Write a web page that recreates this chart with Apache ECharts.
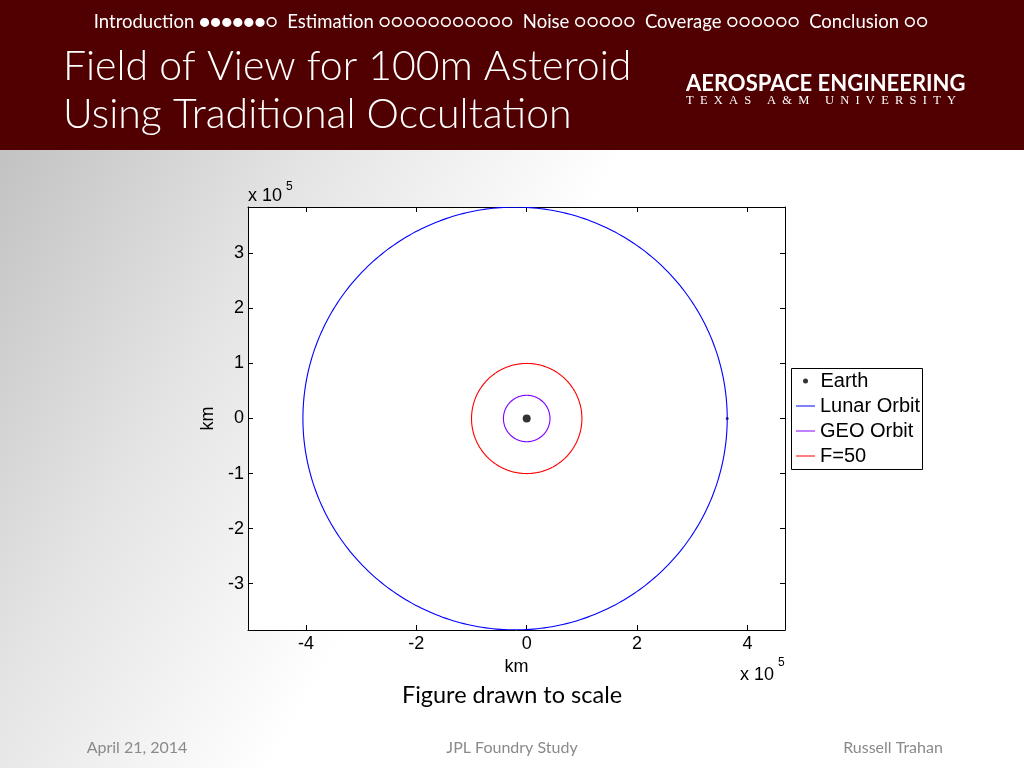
<!DOCTYPE html>
<html><head><meta charset="utf-8">
<script src="https://cdn.jsdelivr.net/npm/echarts@6/dist/echarts.min.js"></script>
<style>html,body{margin:0;padding:0;background:#fff}#c{width:1024px;height:768px;}</style>
</head><body><div id="c"></div>
<script>
// ---- data (km) ----
const seriesNames = ['Earth', 'Lunar Orbit', 'GEO Orbit', 'F=50'];
const earthPos = [0, 0];
// ellipse: center x, center y, semi-axis x, semi-axis y
const lunarOrbit = [-21100, 0, 384400, 383800];
const geoOrbit = [0, 0, 42164, 42164];
const f50Circle = [0, 0, 100000, 100000];
const moonMarker = [363300, 0];
const xTicks = [-400000, -200000, 0, 200000, 400000];
const yTicks = [-300000, -200000, -100000, 0, 100000, 200000, 300000];
const xRange = [-505000, 468000];
const yRange = [-384000, 384000];

const AX = 'Liberation Sans, Arial, sans-serif';
const SL = 'Lato, "Open Sans", sans-serif';

function ellipseItem(params, api) {
  const cx = api.value(0), cy = api.value(1), rx = api.value(2), ry = api.value(3);
  const pts = [];
  for (let i = 0; i <= 360; i++) {
    const t = i * Math.PI / 180;
    pts.push(api.coord([cx + rx * Math.cos(t), cy + ry * Math.sin(t)]));
  }
  return { type: 'polyline', shape: { points: pts }, style: { fill: null, stroke: api.visual('color'), lineWidth: 1.1 } };
}

function xAxisDef(pos, labels) {
  return {
    type: 'value', position: pos, min: xRange[0], max: xRange[1],
    axisLine: { show: true, onZero: false, lineStyle: { color: '#000', width: 1 } },
    axisTick: { show: true, inside: true, length: 5, customValues: xTicks, lineStyle: { color: '#000' } },
    axisLabel: { show: labels, customValues: xTicks, formatter: v => String(v / 1e5), fontSize: 18, color: '#000', fontFamily: AX, margin: 5 },
    splitLine: { show: false },
    name: labels ? 'km' : '', nameLocation: 'middle', nameGap: 22,
    nameTextStyle: { fontSize: 18, color: '#000', fontFamily: AX }
  };
}
function yAxisDef(pos, labels) {
  return {
    type: 'value', position: pos, min: yRange[0], max: yRange[1],
    axisLine: { show: true, onZero: false, lineStyle: { color: '#000', width: 1 } },
    axisTick: { show: true, inside: true, length: 5, customValues: yTicks, lineStyle: { color: '#000' } },
    axisLabel: { show: labels, customValues: yTicks, formatter: v => String(v / 1e5), fontSize: 18, color: '#000', fontFamily: AX, margin: 4 },
    splitLine: { show: false },
    name: labels ? 'km' : '', nameLocation: 'middle', nameGap: 22, nameRotate: 90,
    nameTextStyle: { fontSize: 18, color: '#000', fontFamily: AX }
  };
}

const chart = echarts.init(document.getElementById('c'), null, { renderer: 'canvas' });
chart.setOption({
  animation: false,
  backgroundColor: new echarts.graphic.LinearGradient(0, 150, 470, 420, [
    { offset: 0, color: '#c2c2c2' }, { offset: 0.5, color: '#e4e4e4' }, { offset: 1, color: '#ffffff' }
  ], true),
  grid: { left: 248, top: 207, width: 537, height: 423, show: true, backgroundColor: '#fff', borderWidth: 0 },
  xAxis: [xAxisDef('bottom', true), xAxisDef('top', false)],
  yAxis: [yAxisDef('left', true), yAxisDef('right', false)],
  legend: [
    { data: [{ name: seriesNames[0], icon: 'circle' }], orient: 'vertical', left: 803, top: 371, padding: 0,
      itemWidth: 20, itemHeight: 5, textStyle: { fontSize: 20, color: '#000', fontFamily: AX }, selectedMode: false, z: 5 },
    { data: seriesNames.slice(1).map(n => ({ name: n, icon: 'rect' })), orient: 'vertical', left: 796, top: 396, padding: 0,
      itemWidth: 19, itemHeight: 1, itemGap: 5, textStyle: { fontSize: 20, color: '#000', fontFamily: AX }, selectedMode: false, z: 5 }
  ],
  series: [
    { name: seriesNames[0], type: 'scatter', data: [earthPos], symbolSize: 8, itemStyle: { color: '#000' }, z: 5 },
    { name: seriesNames[1], type: 'custom', renderItem: ellipseItem, data: [lunarOrbit], itemStyle: { color: '#0000ff' }, clip: true },
    { name: seriesNames[2], type: 'custom', renderItem: ellipseItem, data: [geoOrbit], itemStyle: { color: '#8000ff' }, clip: true },
    { name: seriesNames[3], type: 'custom', renderItem: ellipseItem, data: [f50Circle], itemStyle: { color: '#ff0000' }, clip: true },
    { name: 'moon', type: 'scatter', data: [moonMarker], symbolSize: 3, itemStyle: { color: '#000080' } }
  ],
  graphic: [
    { type: 'rect', shape: { x: 0, y: 0, width: 1024, height: 150 }, style: { fill: '#500000' }, z: -10 },
    { type: 'text', x: 511, y: 22, style: { text: 'Introduction ●●●●●●○  Estimation ○○○○○○○○○○○  Noise ○○○○○  Coverage ○○○○○○  Conclusion ○○',
        fill: '#fff', fontSize: 18.5, fontFamily: SL, align: 'center', verticalAlign: 'middle' } },
    { type: 'text', x: 63, y: 67, style: { text: 'Field of View for 100m Asteroid', fill: '#fff', fontSize: 41, fontWeight: 300, fontFamily: SL, align: 'left', verticalAlign: 'middle' } },
    { type: 'text', x: 63, y: 115, style: { text: 'Using Traditional Occultation', fill: '#fff', fontSize: 41, fontWeight: 300, fontFamily: SL, align: 'left', verticalAlign: 'middle' } },
    { type: 'text', x: 686, y: 84, style: { text: 'AEROSPACE ENGINEERING', fill: '#fff', fontSize: 22, fontWeight: 'bold', fontFamily: SL, align: 'left', verticalAlign: 'middle' } },
    { type: 'text', x: 686, y: 101, style: { text: 'T  E  X  A  S     A  &  M     U  N  I  V  E  R  S  I  T  Y', fill: '#fff', fontSize: 12.5, fontFamily: 'Liberation Serif, serif', align: 'left', verticalAlign: 'middle' } },
    { type: 'text', x: 248, y: 196, style: { text: 'x 10', fill: '#000', fontSize: 18, fontFamily: AX, align: 'left', verticalAlign: 'middle' } },
    { type: 'text', x: 286, y: 187, style: { text: '5', fill: '#000', fontSize: 12, fontFamily: AX, align: 'left', verticalAlign: 'middle' } },
    { type: 'text', x: 740, y: 675, style: { text: 'x 10', fill: '#000', fontSize: 18, fontFamily: AX, align: 'left', verticalAlign: 'middle' } },
    { type: 'text', x: 778, y: 663, style: { text: '5', fill: '#000', fontSize: 12, fontFamily: AX, align: 'left', verticalAlign: 'middle' } },
    { type: 'rect', shape: { x: 791.5, y: 368.5, width: 131, height: 101 }, style: { fill: '#fff', stroke: '#000', lineWidth: 1 }, z: 3 },
    { type: 'text', x: 512, y: 695, style: { text: 'Figure drawn to scale', fill: '#000', fontSize: 23.5, fontFamily: SL, align: 'center', verticalAlign: 'middle' } },
    { type: 'text', x: 137, y: 748, style: { text: 'April 21, 2014', fill: '#8a8a8a', fontSize: 16, fontFamily: SL, align: 'center', verticalAlign: 'middle' } },
    { type: 'text', x: 512, y: 748, style: { text: 'JPL Foundry Study', fill: '#8a8a8a', fontSize: 16, fontFamily: SL, align: 'center', verticalAlign: 'middle' } },
    { type: 'text', x: 893, y: 748, style: { text: 'Russell Trahan', fill: '#8a8a8a', fontSize: 16, fontFamily: SL, align: 'center', verticalAlign: 'middle' } }
  ]
});
</script>
</body></html>
